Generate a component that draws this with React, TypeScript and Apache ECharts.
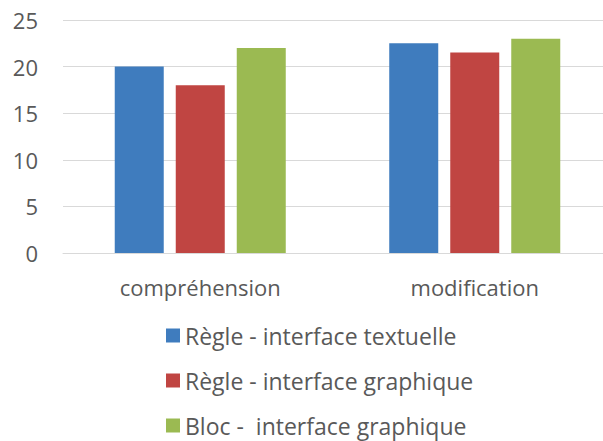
import React, { useEffect, useRef } from "react";
import * as echarts from "echarts";

const categories = ["compréhension", "modification"];
const seriesNames = [
  "Règle - interface textuelle",
  "Règle - interface graphique",
  "Bloc -  interface graphique",
];
const regleTextuelle = [20, 22.5];
const regleGraphique = [18, 21.5];
const blocGraphique = [22, 23];
const yTicks = { min: 0, max: 25, interval: 5 };
const colors = ["#3F7CBE", "#C04542", "#9BBA52"];

export default function App() {
  const ref = useRef<HTMLDivElement>(null);
  useEffect(() => {
    if (!ref.current) return;
    const chart = echarts.init(ref.current, undefined, { renderer: "svg" });
    const font = "Open Sans";
    const values = [regleTextuelle, regleGraphique, blocGraphique];
    chart.setOption({
      animation: false,
      color: colors,
      grid: {
        left: 63,
        top: 20,
        width: 549,
        height: 233,
        containLabel: false,
        outerBoundsMode: "none",
      },
      xAxis: {
        type: "category",
        data: categories,
        axisLine: { show: true, lineStyle: { color: "#D9D9D9", width: 1 } },
        axisTick: { show: false },
        axisLabel: { color: "#595959", fontSize: 22, fontFamily: font, margin: 23 },
      },
      yAxis: {
        type: "value",
        min: yTicks.min,
        max: yTicks.max,
        interval: yTicks.interval,
        axisLine: { show: false },
        axisTick: { show: false },
        splitLine: { lineStyle: { color: "#D9D9D9", width: 1 } },
        axisLabel: { color: "#595959", fontSize: 22, fontFamily: font, margin: 25 },
      },
      legend: {
        orient: "vertical",
        left: 166,
        top: 323,
        padding: 0,
        itemWidth: 14,
        itemHeight: 14,
        itemGap: 20,
        icon: "rect",
        textStyle: { color: "#595959", fontSize: 23, fontFamily: font, lineHeight: 25 },
        data: seriesNames,
      },
      series: seriesNames.map((name, i) => ({
        name,
        type: "bar",
        data: values[i],
        barWidth: 49,
        barGap: "24.5%",
        itemStyle: { color: colors[i] },
      })),
    });
    return () => chart.dispose();
  }, []);
  return <div ref={ref} style={{ width: 603, height: 441, position: "absolute", left: 0, top: 0 }} />;
}
